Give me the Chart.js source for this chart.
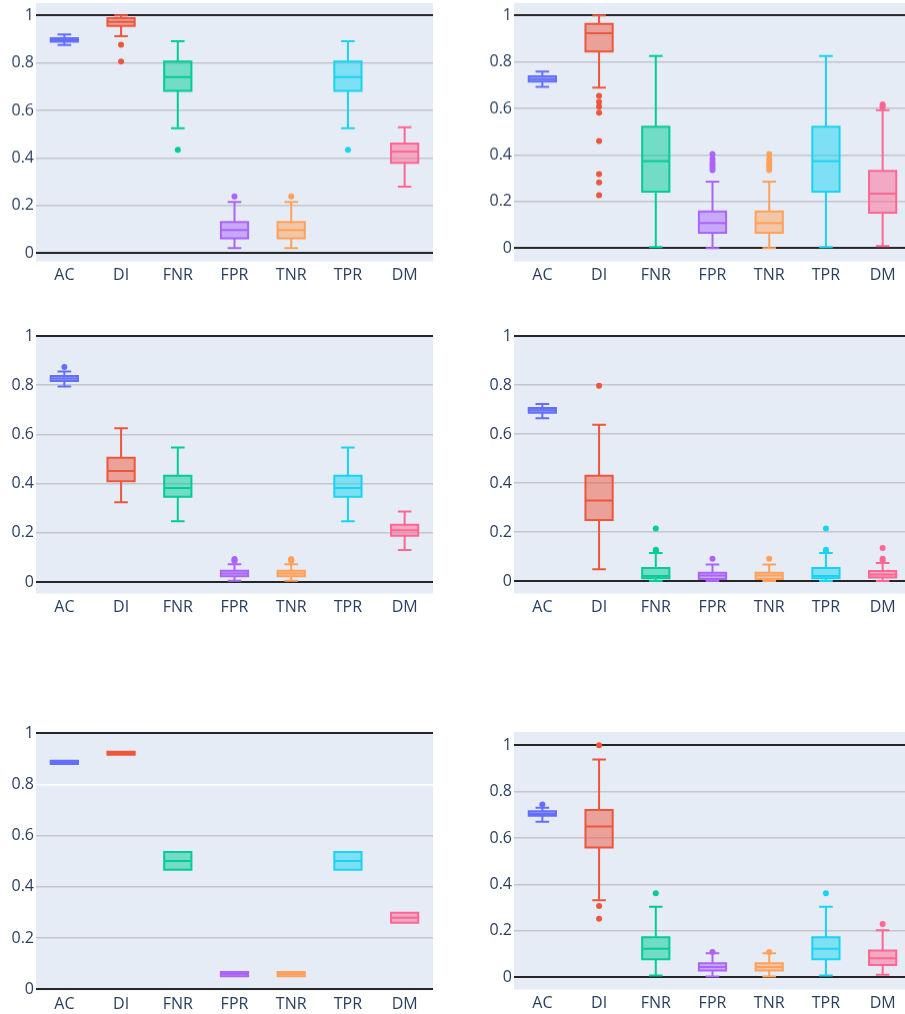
<!DOCTYPE html>
<html>
<head>
<meta charset="utf-8">
<script src="https://cdn.jsdelivr.net/npm/chart.js@4.4.0/dist/chart.umd.min.js"></script>
<style>
  html, body { margin: 0; padding: 0; background: #fff; }
  body { width: 905px; height: 1014px; position: relative; overflow: hidden; }
  .panel { position: absolute; }
</style>
</head>
<body>
<div class="panel" id="w1"><canvas id="c1"></canvas></div>
<div class="panel" id="w2"><canvas id="c2"></canvas></div>
<div class="panel" id="w3"><canvas id="c3"></canvas></div>
<div class="panel" id="w4"><canvas id="c4"></canvas></div>
<div class="panel" id="w5"><canvas id="c5"></canvas></div>
<div class="panel" id="w6"><canvas id="c6"></canvas></div>
<script>
// categorias y ticks
const categories = ['AC', 'DI', 'FNR', 'FPR', 'TNR', 'TPR', 'DM'];
const yTickVals = [0, 0.2, 0.4, 0.6, 0.8, 1];
const yTickText = ['0', '0.2', '0.4', '0.6', '0.8', '1'];

// panel 1 (arriba izq)
const p1Lo  = [0.876, 0.913, 0.525, 0.021, 0.021, 0.525, 0.280];
const p1Q1  = [0.890, 0.956, 0.683, 0.062, 0.062, 0.683, 0.380];
const p1Med = [0.897, 0.973, 0.741, 0.097, 0.097, 0.741, 0.427];
const p1Q3  = [0.904, 0.989, 0.806, 0.131, 0.131, 0.806, 0.461];
const p1Hi  = [0.920, 1.000, 0.892, 0.215, 0.215, 0.892, 0.530];
const p1Out = [[], [0.877, 0.806], [0.435], [0.238], [0.238], [0.435], []];

// panel 2 (arriba der)
const p2Lo  = [0.693, 0.690, 0.004, 0.000, 0.000, 0.004, 0.009];
const p2Q1  = [0.716, 0.845, 0.243, 0.066, 0.066, 0.243, 0.152];
const p2Med = [0.727, 0.924, 0.374, 0.108, 0.108, 0.374, 0.234];
const p2Q3  = [0.738, 0.964, 0.522, 0.157, 0.157, 0.522, 0.332];
const p2Hi  = [0.759, 1.000, 0.826, 0.286, 0.286, 0.826, 0.593];
const p2Out = [[], [0.654, 0.628, 0.608, 0.582, 0.460, 0.318, 0.283, 0.227], [],
               [0.404, 0.384, 0.369, 0.358, 0.346, 0.335],
               [0.404, 0.384, 0.369, 0.358, 0.346, 0.335], [], [0.618, 0.611, 0.605]];

// panel 3 (medio izq)
const p3Lo  = [0.795, 0.324, 0.247, 0.005, 0.005, 0.247, 0.130];
const p3Q1  = [0.817, 0.409, 0.346, 0.023, 0.023, 0.346, 0.188];
const p3Med = [0.827, 0.451, 0.382, 0.034, 0.034, 0.382, 0.210];
const p3Q3  = [0.837, 0.505, 0.432, 0.045, 0.045, 0.432, 0.233];
const p3Hi  = [0.856, 0.625, 0.547, 0.072, 0.072, 0.547, 0.286];
const p3Out = [[0.874], [], [], [0.093, 0.089, 0.085], [0.093, 0.089, 0.085], [], []];

// panel 4 (medio der)
const p4Lo  = [0.664, 0.048, 0.000, 0.000, 0.000, 0.000, 0.000];
const p4Q1  = [0.687, 0.249, 0.011, 0.008, 0.008, 0.011, 0.014];
const p4Med = [0.697, 0.329, 0.020, 0.022, 0.022, 0.020, 0.027];
const p4Q3  = [0.706, 0.430, 0.053, 0.034, 0.034, 0.053, 0.041];
const p4Hi  = [0.722, 0.638, 0.114, 0.067, 0.067, 0.114, 0.073];
const p4Out = [[], [0.797], [0.214, 0.128, 0.122], [0.091], [0.091], [0.214, 0.128, 0.122], [0.135, 0.091, 0.084]];

// panel 5 (abajo izq)
const p5Lo  = [0.879, 0.915, 0.467, 0.052, 0.052, 0.467, 0.260];
const p5Q1  = [0.879, 0.915, 0.467, 0.052, 0.052, 0.467, 0.260];
const p5Med = [0.886, 0.922, 0.501, 0.060, 0.060, 0.501, 0.280];
const p5Q3  = [0.892, 0.927, 0.536, 0.068, 0.068, 0.536, 0.299];
const p5Hi  = [0.892, 0.927, 0.536, 0.068, 0.068, 0.536, 0.299];
const p5Out = [[], [], [], [], [], [], []];

// panel 6 (abajo der)
const p6Lo  = [0.670, 0.332, 0.007, 0.003, 0.003, 0.007, 0.011];
const p6Q1  = [0.696, 0.559, 0.077, 0.029, 0.029, 0.077, 0.053];
const p6Med = [0.705, 0.650, 0.123, 0.044, 0.044, 0.123, 0.082];
const p6Q3  = [0.715, 0.721, 0.172, 0.060, 0.060, 0.172, 0.115];
const p6Hi  = [0.731, 0.938, 0.304, 0.103, 0.103, 0.304, 0.202];
const p6Out = [[0.744], [1.000, 0.307, 0.252], [0.362], [0.109], [0.109], [0.362], [0.229]];

// colores plotly
const colors = ['#636EFA', '#EF553B', '#00CC96', '#AB63FA', '#FFA15A', '#19D3F3', '#FF6692'];
const fills  = ['rgba(99,110,250,0.5)', 'rgba(239,85,59,0.5)', 'rgba(0,204,150,0.5)', 'rgba(171,99,250,0.5)',
                'rgba(255,161,90,0.5)', 'rgba(25,211,243,0.5)', 'rgba(255,102,146,0.5)'];

Chart.defaults.font.family = '"Open Sans", sans-serif';
Chart.defaults.font.size = 16;
Chart.defaults.color = '#2a3f5f';

const AXIS_W = 36, PAD_TOP = 14, AXIS_H = 30, PLOT_W = 397, PLOT_H = 257.5;

const panels = [
  { id: 1, left: 36,  top: 3.3,   min: -0.035, max: 1.052, lo: p1Lo, q1: p1Q1, med: p1Med, q3: p1Q3, hi: p1Hi, out: p1Out, white: [] },
  { id: 2, left: 514, top: 3.3,   min: -0.057, max: 1.053, lo: p2Lo, q1: p2Q1, med: p2Med, q3: p2Q3, hi: p2Hi, out: p2Out, white: [] },
  { id: 3, left: 36,  top: 335.7, min: -0.047, max: 1,     lo: p3Lo, q1: p3Q1, med: p3Med, q3: p3Q3, hi: p3Hi, out: p3Out, white: [] },
  { id: 4, left: 514, top: 335.7, min: -0.051, max: 1,     lo: p4Lo, q1: p4Q1, med: p4Med, q3: p4Q3, hi: p4Hi, out: p4Out, white: [] },
  { id: 5, left: 36,  top: 732.7, min: -0.004, max: 1,     lo: p5Lo, q1: p5Q1, med: p5Med, q3: p5Q3, hi: p5Hi, out: p5Out, white: [0.8] },
  { id: 6, left: 514, top: 731.7, min: -0.053, max: 1.057, lo: p6Lo, q1: p6Q1, med: p6Med, q3: p6Q3, hi: p6Hi, out: p6Out, white: [] }
];

// fondo del area de trazado
const plotBg = {
  id: 'plotBg',
  beforeDraw(chart) {
    const a = chart.chartArea, ctx = chart.ctx;
    ctx.save();
    ctx.fillStyle = '#e5ecf6';
    ctx.fillRect(a.left, a.top, a.right - a.left, a.bottom - a.top);
    ctx.restore();
  }
};

function makeChart(p) {
  const wrap = document.getElementById('w' + p.id);
  wrap.style.left = (p.left - AXIS_W) + 'px';
  wrap.style.top = (p.top - PAD_TOP) + 'px';
  wrap.style.width = (PLOT_W + AXIS_W + 4) + 'px';
  wrap.style.height = (PLOT_H + PAD_TOP + AXIS_H) + 'px';

  const outPts = [], outCols = [];
  p.out.forEach((vals, i) => vals.forEach(v => {
    outPts.push({ x: categories[i], y: v });
    outCols.push(colors[i]);
  }));

  // contorno de la caja, bigotes y mediana (trazo centrado como plotly)
  const whiskers = {
    id: 'whiskers' + p.id,
    afterDatasetsDraw(chart) {
      const ctx = chart.ctx, y = chart.scales.y;
      const meta = chart.getDatasetMeta(0);
      ctx.save();
      ctx.lineWidth = 2;
      meta.data.forEach((bar, i) => {
        const cx = bar.x, half = bar.width / 2, cap = half / 2;
        const yq1 = y.getPixelForValue(p.q1[i]), yq3 = y.getPixelForValue(p.q3[i]);
        ctx.strokeStyle = colors[i];
        ctx.beginPath();
        ctx.rect(cx - half, yq3, half * 2, yq1 - yq3);
        const ym = y.getPixelForValue(p.med[i]);
        ctx.moveTo(cx - half, ym); ctx.lineTo(cx + half, ym);
        if (p.hi[i] > p.q3[i]) {
          const b = y.getPixelForValue(p.hi[i]);
          ctx.moveTo(cx, yq3); ctx.lineTo(cx, b);
          ctx.moveTo(cx - cap, b); ctx.lineTo(cx + cap, b);
        }
        if (p.lo[i] < p.q1[i]) {
          const b = y.getPixelForValue(p.lo[i]);
          ctx.moveTo(cx, yq1); ctx.lineTo(cx, b);
          ctx.moveTo(cx - cap, b); ctx.lineTo(cx + cap, b);
        }
        ctx.stroke();
      });
      ctx.restore();
    }
  };

  return new Chart(document.getElementById('c' + p.id), {
    type: 'bar',
    data: {
      labels: categories,
      datasets: [{
        data: categories.map((c, i) => [p.q1[i], p.q3[i]]),
        backgroundColor: fills,
        borderWidth: 0,
        barPercentage: 0.48,
        categoryPercentage: 1
      }, {
        type: 'line',
        data: outPts,
        showLine: false,
        pointRadius: 3,
        pointBorderWidth: 0,
        pointBackgroundColor: outCols,
        pointBorderColor: outCols
      }]
    },
    options: {
      responsive: true,
      maintainAspectRatio: false,
      animation: false,
      layout: { padding: { top: PAD_TOP, right: 4, left: 0, bottom: 0 } },
      plugins: { legend: { display: false }, tooltip: { enabled: false } },
      scales: {
        x: {
          grid: { display: false, drawTicks: false },
          border: { display: false },
          ticks: { padding: 4 },
          afterFit(s) { s.height = AXIS_H; }
        },
        y: {
          min: p.min,
          max: p.max,
          afterBuildTicks(s) { s.ticks = yTickVals.map(v => ({ value: v })); },
          afterFit(s) { s.width = AXIS_W; },
          ticks: {
            padding: 2,
            callback: (v) => yTickText[yTickVals.indexOf(Math.round(v * 10) / 10)]
          },
          border: { display: false },
          grid: {
            drawTicks: false,
            color: (c) => {
              const v = c.tick.value;
              if (v === 0 || v === 1) return '#262626';
              return p.white.includes(v) ? '#ffffff' : '#c3c6cc';
            },
            lineWidth: (c) => (c.tick.value === 0 || c.tick.value === 1) ? 2 : 1.5
          }
        }
      }
    },
    plugins: [plotBg, whiskers]
  });
}

const charts = panels.map(makeChart);
</script>
</body>
</html>
